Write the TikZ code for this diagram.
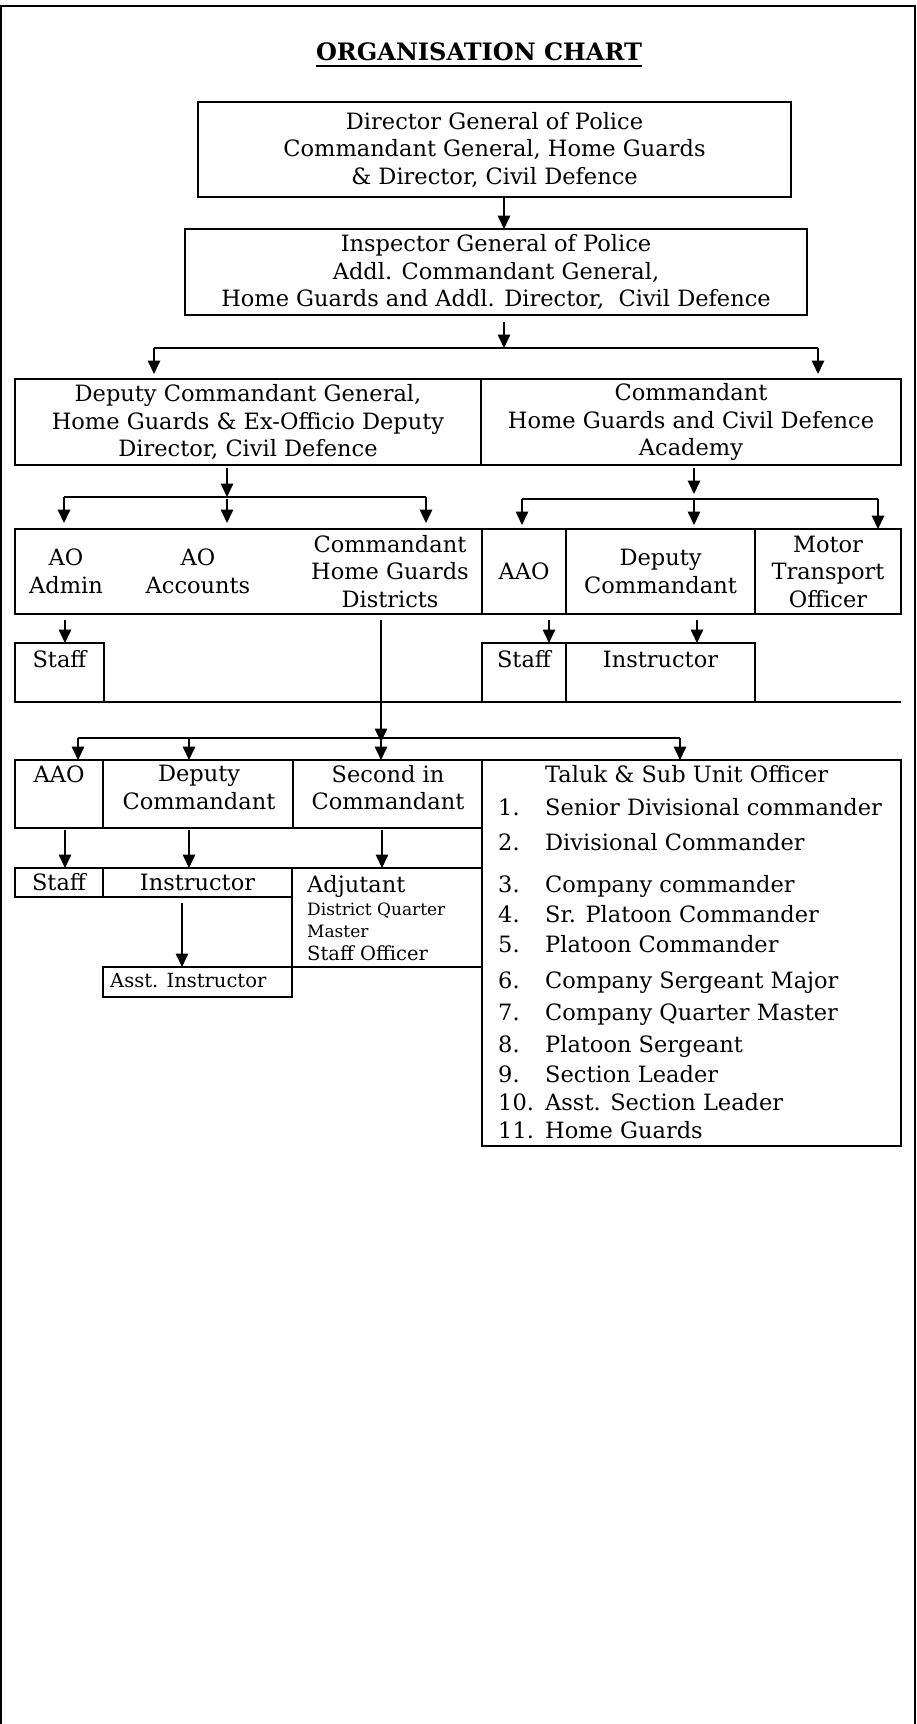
\documentclass[tikz,border=0pt]{standalone}
\usepackage{fontspec}
\setmainfont{DejaVu Serif}
\usepackage{tikz}
\usetikzlibrary{positioning,arrows.meta,calc}

\newcommand{\mainfs}{\fontsize{22.5}{27.5}\selectfont}
\newcommand{\titlefs}{\fontsize{24}{28}\selectfont}
\newcommand{\midfs}{\fontsize{19.5}{23}\selectfont}
\newcommand{\smallfs}{\fontsize{17}{20}\selectfont}

\begin{document}
\begin{tikzpicture}[x=1pt, y=-1pt,
            % Style for boxes
            box/.style={draw, line width=2pt, inner sep=0pt, outer sep=0pt, anchor=north west, align=center, font=\mainfs},
            % Style for free text
            txt/.style={inner sep=0pt, align=center, font=\mainfs},
            item/.style={inner sep=0pt, anchor=base west, font=\mainfs},
            % Style for arrows and bars
            arr/.style={-{Triangle[length=13.5pt, width=12.5pt]}, line width=1.6pt},
            bar/.style={line width=1.6pt}
        ]
            \useasboundingbox (0,0) rectangle (917,1724);

            % --- 0. FRAME AND TITLE ---
            \draw[line width=2.2pt] (1,1724) -- (1,6) -- (915,6) -- (915,1724);
            \node[inner sep=0pt, anchor=base, font=\titlefs\bfseries] (title) at (479,60) {ORGANISATION CHART};
            \draw[line width=2pt] ([yshift=-6pt]title.base west) -- ([yshift=-6pt]title.base east);

            % --- 1. TOP ---
            \node[box, minimum width=593pt, minimum height=95pt] (dgp) at (198,102) {Director General of Police\\Commandant General, Home Guards\\\& Director, Civil Defence};
            \node[box, minimum width=622pt, minimum height=86pt] (igp) at (185,229) {Inspector General of Police\\Addl. Commandant General,\\Home Guards and Addl. Director,\ \ Civil Defence};

            % --- 2. DEPUTY / ACADEMY ---
            \node[box, minimum width=466pt, minimum height=86pt] (dcg) at (15,379) {Deputy Commandant General,\\Home Guards \& Ex-Officio Deputy\\Director, Civil Defence};
            \node[box, minimum width=420pt, minimum height=86pt] (cdh) at (481,379) {Commandant\\Home Guards and Civil Defence\\Academy};

            % --- 3. OFFICERS ---
            \node[box, minimum width=467pt, minimum height=85pt] (ao) at (15,529) {};
            \node[txt] (aoadm) at (66,571.5) {AO\\Admin};
            \node[txt] (aoacc) at (198,571.5) {AO\\Accounts};
            \node[txt] (chgd) at (390,571.5) {Commandant\\Home Guards\\Districts};
            \node[box, minimum width=84pt, minimum height=85pt] (aao) at (482,529) {AAO};
            \node[box, minimum width=189pt, minimum height=85pt] (dyc) at (566,529) {Deputy\\Commandant};
            \node[box, minimum width=146pt, minimum height=85pt] (mto) at (755,529) {Motor\\Transport\\Officer};

            % --- 4. STAFF ROW ---
            \node[box, minimum width=89pt, minimum height=59pt, text height=24pt, text depth=35pt] (stfa) at (15,643) {Staff};
            \node[box, minimum width=84pt, minimum height=59pt, text height=24pt, text depth=35pt] (stfb) at (482,643) {Staff};
            \node[box, minimum width=189pt, minimum height=59pt, text height=24pt, text depth=35pt] (ins) at (566,643) {Instructor};
            \coordinate (r5e) at (901,702);
            \draw[line width=2pt] (stfa.south east) -- (stfb.south west);
            \draw[line width=2pt] (ins.south east) -- (r5e);

            % --- 5. DISTRICT ROW ---
            \node[box, minimum width=88pt, minimum height=68pt, text height=22pt, text depth=46pt] (aao2) at (15,760) {AAO};
            \node[box, minimum width=190pt, minimum height=68pt] (dyc2) at (103,760) {};
            \node[txt, anchor=north] (dyc2t) at (199,765) {Deputy\\Commandant};
            \node[box, minimum width=189pt, minimum height=68pt] (sic) at (293,760) {};
            \node[txt, anchor=north] (sict) at (388,765) {Second in\\Commandant};

            % Taluk box with its list
            \node[box, minimum width=419pt, minimum height=386pt] (tso) at (482,760) {};
            \node[item] (tsoh) at (545,782) {Taluk \& Sub Unit Officer};
            \node[item] (t1) at (498,815) {\makebox[47pt][l]{1.}Senior Divisional commander};
            \node[item] (t2) at (498,850) {\makebox[47pt][l]{2.}Divisional Commander};
            \node[item] (t3) at (498,892) {\makebox[47pt][l]{3.}Company commander};
            \node[item] (t4) at (498,922) {\makebox[47pt][l]{4.}Sr. Platoon Commander};
            \node[item] (t5) at (498,952) {\makebox[47pt][l]{5.}Platoon Commander};
            \node[item] (t6) at (498,988) {\makebox[47pt][l]{6.}Company Sergeant Major};
            \node[item] (t7) at (498,1020) {\makebox[47pt][l]{7.}Company Quarter Master};
            \node[item] (t8) at (498,1052) {\makebox[47pt][l]{8.}Platoon Sergeant};
            \node[item] (t9) at (498,1082) {\makebox[47pt][l]{9.}Section Leader};
            \node[item] (t10) at (498,1110) {\makebox[47pt][l]{10.}Asst. Section Leader};
            \node[item] (t11) at (498,1138) {\makebox[47pt][l]{11.}Home Guards};

            % --- 6. LOWEST ROW ---
            \node[box, minimum width=88pt, minimum height=29pt] (stfc) at (15,868) {Staff};
            \node[box, minimum width=189pt, minimum height=29pt] (insc) at (103,868) {Instructor};
            \node[box, minimum width=190pt, minimum height=99pt] (adj) at (292,868) {};
            \node[item] (adj1) at (307,892) {Adjutant};
            \node[item, font=\smallfs] (adj2) at (307,915) {District Quarter};
            \node[item, font=\smallfs] (adj3) at (307,937) {Master};
            \node[item, font=\midfs] (adj4) at (307,960) {Staff Officer};
            \node[box, minimum width=189pt, minimum height=30pt] (asst) at (103,967) {};
            \node[item, font=\midfs] (asstt) at (110,987) {Asst. Instructor};

            % --- 7. CONNECTORS ---
            \coordinate (c1) at (504,348);
            \coordinate (c1l) at (154,348);
            \coordinate (c1r) at (818,348);
            \draw[arr] (dgp.south -| c1) -- (igp.north -| c1);
            \draw[arr] ($(igp.south -| c1)+(0,7)$) -- (c1);
            \draw[bar] (c1l) -- (c1r);
            \draw[arr, shorten >=5pt] (c1l) -- (c1l |- dcg.north);
            \draw[arr, shorten >=5pt] (c1r) -- (c1r |- cdh.north);

            % left branch
            \coordinate (c2) at (227,497);
            \coordinate (c2l) at (64,497);
            \coordinate (c2r) at (426,497);
            \draw[arr] ($(dcg.south -| c2)+(0,3)$) -- (c2);
            \draw[bar] (c2l) -- (c2r);
            \draw[arr, shorten >=6pt] (c2l) -- (c2l |- ao.north);
            \draw[arr, shorten >=6pt] ($(c2)+(0,2)$) -- (c2 |- ao.north);
            \draw[arr, shorten >=6pt] (c2r) -- (c2r |- ao.north);

            % right branch
            \coordinate (c3) at (694,499);
            \coordinate (c3l) at (522,499);
            \coordinate (c3r) at (878,499);
            \draw[arr] ($(cdh.south -| c3)+(0,3)$) -- ($(c3)+(0,-5)$);
            \draw[bar] (c3l) -- (c3r);
            \draw[arr, shorten >=4pt] (c3l) -- (c3l |- aao.north);
            \draw[arr, shorten >=4pt] (c3) -- (c3 |- dyc.north);
            \draw[arr] (c3r) -- (c3r |- mto.north);

            % to the staff row
            \draw[arr] ($(ao.south -| 65,0)+(0,6)$) -- (stfa.north -| 65,0);
            \draw[arr] ($(aao.south -| 549,0)+(0,6)$) -- (stfb.north -| 549,0);
            \draw[arr] ($(dyc.south -| 697,0)+(0,6)$) -- (ins.north -| 697,0);

            % districts
            \coordinate (c4) at (381,738);
            \coordinate (c4l) at (78,738);
            \coordinate (c4m) at (189,738);
            \coordinate (c4r) at (680,738);
            \draw[arr] ($(ao.south -| c4)+(0,6)$) -- ($(c4)+(0,4)$);
            \draw[bar] (c4l) -- (c4r);
            \draw[arr] (c4l) -- (c4l |- aao2.north);
            \draw[arr] (c4m) -- (c4m |- dyc2.north);
            \draw[arr] (c4) -- (c4 |- sic.north);
            \draw[arr] (c4r) -- (c4r |- tso.north);

            % lowest row
            \draw[arr] ($(aao2.south -| 65,0)+(0,2)$) -- (stfc.north -| 65,0);
            \draw[arr] ($(dyc2.south -| 189,0)+(0,2)$) -- (insc.north -| 189,0);
            \draw[arr] ($(sic.south -| 382,0)+(0,2)$) -- (adj.north -| 382,0);
            \draw[arr] ($(insc.south -| 182,0)+(0,6)$) -- (asst.north -| 182,0);

        \end{tikzpicture}
\end{document}
